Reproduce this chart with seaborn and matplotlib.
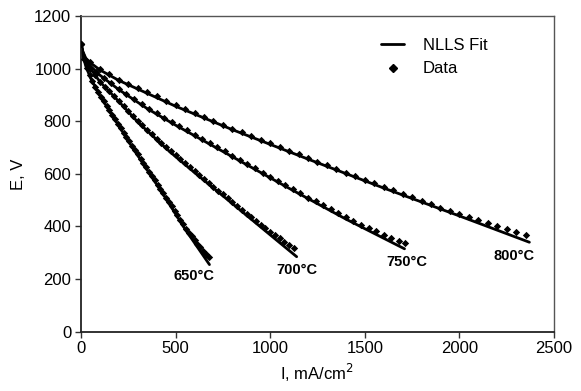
import pandas as pd
import matplotlib.pyplot as plt
import seaborn as sb
from matplotlib.lines import Line2D

# NLLS fit curves (I in mA/cm2, E in mV)
fit_i_650 = [0, 10, 25, 50, 100, 150, 250, 350, 450, 550, 679]
fit_v_650 = [1095, 1050, 1010, 965, 897, 840, 725, 615, 505, 390, 255]
fit_i_700 = [0, 10, 25, 50, 100, 200, 300, 400, 468, 600, 800, 1000, 1140]
fit_v_700 = [1095, 1060, 1030, 1000, 950, 875, 797, 730, 685, 605, 487, 368, 285]
fit_i_750 = [0, 10, 25, 50, 100, 200, 350, 500, 800, 1100, 1400, 1710]
fit_v_750 = [1095, 1062, 1035, 1010, 975, 920, 848, 785, 665, 545, 428, 315]
fit_i_800 = [0, 10, 25, 50, 100, 200, 350, 500, 800, 1200, 1600, 2000, 2370]
fit_v_800 = [1095, 1065, 1040, 1022, 995, 955, 906, 857, 768, 656, 546, 440, 340]

# measured points
data_i_650 = [0, 15, 30, 45, 60, 75, 90, 105, 120, 135, 150, 165, 180, 195, 210,
              225, 240, 255, 270, 285, 300, 315, 330, 345, 360, 375, 390, 405, 420,
              435, 450, 465, 480, 495, 510, 525, 540, 555, 570, 585, 600, 615, 630,
              645, 660, 675]
data_v_650 = [1095, 1037, 1001, 974, 951, 931, 911, 892, 875, 858, 842, 825, 808,
              791, 774, 757, 740, 723, 707, 690, 674, 658, 641, 625, 608, 592, 575,
              559, 542, 526, 510, 493, 476, 459, 442, 425, 408, 392, 377, 362, 348,
              334, 321, 308, 295, 282]
data_i_700 = [0, 25, 50, 75, 100, 125, 150, 175, 200, 225, 250, 275, 300, 325, 350,
              375, 400, 425, 450, 475, 500, 525, 550, 575, 600, 625, 650, 675, 700,
              725, 750, 775, 800, 825, 850, 875, 900, 925, 950, 975, 1000, 1025,
              1050, 1075, 1100, 1125]
data_v_700 = [1095, 1030, 1000, 975, 950, 931, 913, 895, 877, 858, 839, 820, 800,
              784, 767, 751, 734, 718, 701, 685, 670, 655, 640, 625, 610, 595, 580,
              566, 551, 536, 522, 507, 492, 478, 464, 449, 435, 421, 407, 393, 380,
              367, 355, 342, 330, 317]
data_i_750 = [0, 40, 80, 120, 160, 200, 240, 280, 320, 360, 400, 440, 480, 520, 560,
              600, 640, 680, 720, 760, 800, 840, 880, 920, 960, 1000, 1040, 1080,
              1120, 1160, 1200, 1240, 1280, 1320, 1360, 1400, 1440, 1480, 1520,
              1560, 1600, 1640, 1680, 1710]
data_v_750 = [1095, 1020, 989, 965, 944, 923, 904, 885, 866, 848, 831, 814, 797,
              781, 765, 749, 733, 717, 701, 685, 669, 653, 637, 621, 605, 589, 573,
              557, 541, 526, 510, 495, 480, 465, 450, 435, 421, 407, 394, 381, 368,
              356, 344, 336]
data_i_800 = [0, 50, 100, 150, 200, 250, 300, 350, 400, 450, 500, 550, 600, 650, 700,
              750, 800, 850, 900, 950, 1000, 1050, 1100, 1150, 1200, 1250, 1300,
              1350, 1400, 1450, 1500, 1550, 1600, 1650, 1700, 1750, 1800, 1850,
              1900, 1950, 2000, 2050, 2100, 2150, 2200, 2250, 2300, 2350]
data_v_800 = [1095, 1025, 998, 979, 958, 943, 927, 910, 894, 878, 861, 846, 831,
              817, 802, 787, 772, 758, 744, 730, 716, 702, 688, 674, 660, 646, 633,
              619, 605, 592, 578, 564, 550, 537, 524, 511, 498, 485, 472, 460, 448,
              436, 424, 412, 400, 389, 378, 367]

temps = ["650°C", "700°C", "750°C", "800°C"]


def build_frame(pairs):
    parts = []
    for t, (xs, ys) in zip(temps, pairs):
        parts.append(pd.DataFrame({"I": xs, "E": ys, "T": t}))
    return pd.concat(parts, ignore_index=True)


fit_df = build_frame([(fit_i_650, fit_v_650), (fit_i_700, fit_v_700),
                      (fit_i_750, fit_v_750), (fit_i_800, fit_v_800)])
data_df = build_frame([(data_i_650, data_v_650), (data_i_700, data_v_700),
                       (data_i_750, data_v_750), (data_i_800, data_v_800)])

sb.set_style("ticks")
plt.rcParams["font.family"] = ["Liberation Sans", "DejaVu Sans"]
plt.rcParams["text.color"] = "black"
plt.rcParams["axes.labelcolor"] = "black"
plt.rcParams["xtick.color"] = "black"
plt.rcParams["ytick.color"] = "black"

fig = plt.figure(figsize=(5.81, 3.91), dpi=100)
ax = fig.add_axes([0.1394, 0.1517, 0.8141, 0.8074])

sb.lineplot(data=fit_df, x="I", y="E", units="T", estimator=None, sort=False,
            color="black", linewidth=2.0, ax=ax)
sb.scatterplot(data=data_df, x="I", y="E", marker="D", s=14, color="black",
               linewidth=0, ax=ax, zorder=3)

ax.set_xlim(0, 2500)
ax.set_ylim(0, 1200)
ax.set_xticks([0, 500, 1000, 1500, 2000, 2500])
ax.set_yticks([0, 200, 400, 600, 800, 1000, 1200])
ax.tick_params(labelsize=12, length=4, width=1, color="#333333", pad=3)
ax.set_xlabel("I, mA/cm$^2$", fontsize=12, labelpad=4)
ax.set_ylabel("E, V", fontsize=12, labelpad=6)

for side in ["left", "bottom"]:
    ax.spines[side].set_color("#222222")
    ax.spines[side].set_linewidth(1.3)
for side in ["top", "right"]:
    ax.spines[side].set_color("#555555")
    ax.spines[side].set_linewidth(1.0)

# temperature labels at the end of each curve
label_kw = dict(fontsize=10.5, fontweight="bold", ha="center", va="center")
ax.text(595, 212, temps[0], **label_kw)
ax.text(1139, 235, temps[1], **label_kw)
ax.text(1720, 266, temps[2], **label_kw)
ax.text(2290, 288, temps[3], **label_kw)

handles = [Line2D([], [], color="black", linewidth=2.0),
           Line2D([], [], color="black", marker="D", markersize=3.8, linestyle="")]
ax.legend(handles, ["NLLS Fit", "Data"], loc="upper left", bbox_to_anchor=(0.634, 0.93),
          frameon=False, fontsize=12, handlelength=1.4, handletextpad=1.1,
          borderaxespad=0, borderpad=0, labelspacing=0.5)

fig.savefig("out.png", dpi=100)
